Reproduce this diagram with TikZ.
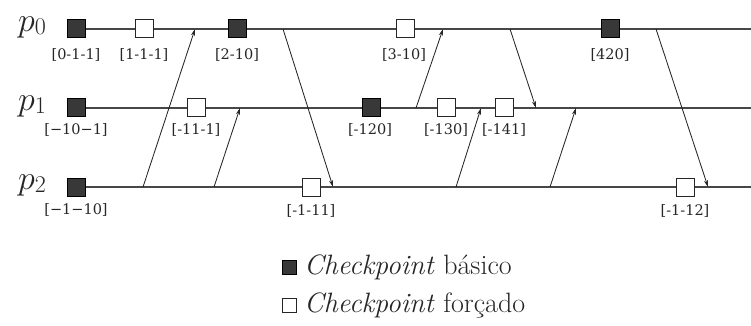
\RequirePackage{fix-cm}
\documentclass[tikz,border=0pt]{standalone}
\usepackage{fontspec}
\newfontfamily\lblfont{DejaVu Serif}
\usetikzlibrary{arrows.meta}
\begin{document}
\begin{tikzpicture}[x=1pt,y=-1pt,
  ckb/.style={draw=black,fill=black!78,minimum size=18pt,inner sep=0pt,line width=0.6pt},
  ckf/.style={draw=black!85,fill=white,minimum size=18pt,inner sep=0pt,line width=0.9pt},
  lbl/.style={font=\lblfont\fontsize{14.5}{14.5}\selectfont,anchor=north,inner sep=0pt,text=black!85},
  proc/.style={line width=1.6pt,draw=black!72},
  msg/.style={line width=0.85pt,draw=black!85,-{Stealth[length=7pt,width=4pt]}},
  plab/.style={inner sep=0pt,text=black!85},
  leg/.style={font=\fontsize{28}{28}\selectfont,anchor=west,inner sep=0pt,text=black!85}]
\useasboundingbox (0,0) rectangle (751,325);
% process line ends
\coordinate (s0) at (76,29);  \coordinate (e0) at (751,29);
\coordinate (s1) at (76,108); \coordinate (e1) at (751,108);
\coordinate (s2) at (76,187); \coordinate (e2) at (751,187);
\draw[proc] (s0) -- (e0);
\draw[proc] (s1) -- (e1);
\draw[proc] (s2) -- (e2);
% message end points
\coordinate (m1s) at (143,187); \coordinate (m1e) at (195,29);
\coordinate (m2s) at (214,187); \coordinate (m2e) at (240,108);
\coordinate (m3s) at (283,29);  \coordinate (m3e) at (333,187);
\coordinate (m4s) at (416,108); \coordinate (m4e) at (443,29);
\coordinate (m5s) at (510,29);  \coordinate (m5e) at (536,108);
\coordinate (m6s) at (456,187); \coordinate (m6e) at (481,108);
\coordinate (m7s) at (550,187); \coordinate (m7e) at (576,108);
\coordinate (m8s) at (656,29);  \coordinate (m8e) at (708,187);
\foreach \i in {1,...,8} {\draw[msg] (m\i s) -- (m\i e);}
% process names
\node[plab] (P0) at (32,27) {\fontsize{34}{34}\selectfont$p$\raisebox{-3.5pt}{\fontsize{24}{24}\selectfont 0}};
\node[plab] (P1) at (32,106) {\fontsize{34}{34}\selectfont$p$\raisebox{-3.5pt}{\fontsize{24}{24}\selectfont 1}};
\node[plab] (P2) at (32,185) {\fontsize{34}{34}\selectfont$p$\raisebox{-3.5pt}{\fontsize{24}{24}\selectfont 2}};
% checkpoints p0
\node[ckb] (a0) at (76,28) {};
\node[ckf] (a1) at (144,28) {};
\node[ckb] (a2) at (237,28) {};
\node[ckf] (a3) at (405,28) {};
\node[ckb] (a4) at (610,28) {};
\node[lbl] at (76,48) {[0-1-1]};
\node[lbl] at (144,48) {[1-1-1]};
\node[lbl] at (237,48) {[2-10]};
\node[lbl] at (404,48) {[3-10]};
\node[lbl] at (610,48) {[420]};
% checkpoints p1
\node[ckb] (b0) at (76,107) {};
\node[ckf] (b1) at (196,107) {};
\node[ckb] (b2) at (371,107) {};
\node[ckf] (b3) at (446,107) {};
\node[ckf] (b4) at (504,107) {};
\node[lbl] at (76,123) {[−10−1]};
\node[lbl] at (196,123) {[-11-1]};
\node[lbl] at (370,123) {[-120]};
\node[lbl] at (446,123) {[-130]};
\node[lbl] at (504,123) {[-141]};
% checkpoints p2
\node[ckb] (c0) at (76,187) {};
\node[ckf] (c1) at (311,187) {};
\node[ckf] (c2) at (685,187) {};
\node[lbl] at (76,203) {[−1−10]};
\node[lbl] at (311,204) {[-1-11]};
\node[lbl] at (685,204) {[-1-12]};
% legend
\node[ckb,minimum size=14pt] (L1) at (289,267) {};
\node[ckf,minimum size=14pt,line width=0.7pt] (L2) at (289,305) {};
\node[leg] (T1) at (304,267) {\textit{Checkpoint} básico};
\node[leg] (T2) at (304,305) {\textit{Checkpoint} forçado};
\end{tikzpicture}
\end{document}
